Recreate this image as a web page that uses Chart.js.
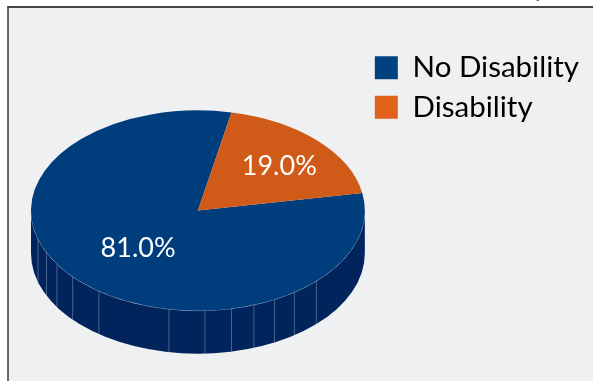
<!DOCTYPE html>
<html>
<head>
<meta charset="utf-8">
<script src="https://cdn.jsdelivr.net/npm/chart.js@4"></script>
<style>
  html, body { margin: 0; padding: 0; background: #fff; overflow: hidden; }
  #panel { position: absolute; left: 7px; top: 6px; width: 586px; height: 375px;
           box-sizing: border-box; background: #eef0f2;
           border-left: 2px solid #666; border-top: 2px solid #444; }
  #wrap { position: absolute; left: 0; top: 0; width: 593px; height: 381px; }
  #heading-tail { position: absolute; left: 534px; top: -22px; font: 20px Lato; color: #0b4a8f; line-height: 24px; }
</style>
</head>
<body>
<div id="heading-tail">y</div>
<div id="panel"></div>
<div id="wrap"><canvas id="chart" width="593" height="381"></canvas></div>
<script>
// Share of population by disability status
const categories = ['No Disability', 'Disability'];
const shares = [81.0, 19.0];
const sliceColors = ['#003d7c', '#d05a18'];
const legendColors = ['#00417f', '#e2611c'];
const labelRadii = [0.5, 0.68];
const labelDrop = 3;

// Tilted-disc look: vertical squash, drop of the side wall, and facet seams (degrees clockwise from top)
const tilt = 0.6;
const wallDepth = 43;
const discCenterY = 210.5;
const startAngle = 80;
const seamAngles = [253.3, 245.1, 237.6, 228.6, 216.4, 190, 177.6, 168.4, 160.4, 152.7, 144.7, 134.8];

const tiltedDisc = {
  id: 'tiltedDisc',
  beforeDatasetsDraw(chart) {
    const { ctx } = chart;
    const arc = chart.getDatasetMeta(0).data[0];
    const cx = arc.x, rx = arc.outerRadius, ry = rx * tilt, cy = discCenterY;

    // side wall
    ctx.save();
    ctx.fillStyle = '#00245b';
    ctx.beginPath();
    ctx.ellipse(cx, cy + wallDepth, rx, ry, 0, 0, Math.PI);
    ctx.ellipse(cx, cy, rx, ry, 0, Math.PI, 0, true);
    ctx.closePath();
    ctx.fill();
    ctx.clip();

    // facet seams
    ctx.strokeStyle = 'rgba(190,205,225,0.38)';
    ctx.lineWidth = 1;
    seamAngles.forEach(a => {
      const t = a * Math.PI / 180;
      const x = cx + rx * Math.sin(t), y = cy - ry * Math.cos(t);
      ctx.beginPath();
      ctx.moveTo(x, y);
      ctx.lineTo(x, y + wallDepth);
      ctx.stroke();
    });
    ctx.restore();

    // light rim along the front edge
    ctx.save();
    ctx.strokeStyle = 'rgba(190,205,225,0.55)';
    ctx.lineWidth = 1;
    ctx.beginPath();
    ctx.ellipse(cx, cy, rx, ry, 0, 0, Math.PI);
    ctx.stroke();
    ctx.restore();

    // squash the flat pie into the top face of the disc
    ctx.save();
    ctx.translate(cx, cy);
    ctx.scale(1, tilt);
    ctx.translate(-cx, -arc.y);
  },
  afterDatasetsDraw(chart) {
    const { ctx } = chart;
    ctx.restore();

    const meta = chart.getDatasetMeta(0);
    ctx.save();
    ctx.fillStyle = '#fff';
    ctx.font = '27px Lato';
    ctx.textAlign = 'center';
    ctx.textBaseline = 'middle';
    meta.data.forEach((arc, i) => {
      const mid = (arc.startAngle + arc.endAngle) / 2;
      const r = arc.outerRadius * labelRadii[i];
      const x = arc.x + r * Math.cos(mid);
      const y = discCenterY + r * tilt * Math.sin(mid) + labelDrop;
      ctx.fillText(shares[i].toFixed(1) + '%', x, y);
    });
    ctx.restore();
  }
};

new Chart(document.getElementById('chart'), {
  type: 'pie',
  data: {
    labels: categories,
    datasets: [{ data: shares, backgroundColor: sliceColors, borderWidth: 0 }]
  },
  options: {
    responsive: false,
    animation: false,
    rotation: startAngle,
    layout: { padding: { left: 31, right: 4, top: 43, bottom: 0 } },
    plugins: {
      tooltip: { enabled: false },
      legend: {
        position: 'right',
        align: 'start',
        labels: {
          boxWidth: 23,
          boxHeight: 23,
          padding: 10,
          color: '#222',
          font: { family: 'Lato', size: 29.5 },
          generateLabels: chart => categories.map((text, i) => ({
            text, fillStyle: legendColors[i], strokeStyle: legendColors[i],
            lineWidth: 0, index: i, hidden: false
          }))
        }
      }
    }
  },
  plugins: [tiltedDisc]
});
</script>
</body>
</html>
